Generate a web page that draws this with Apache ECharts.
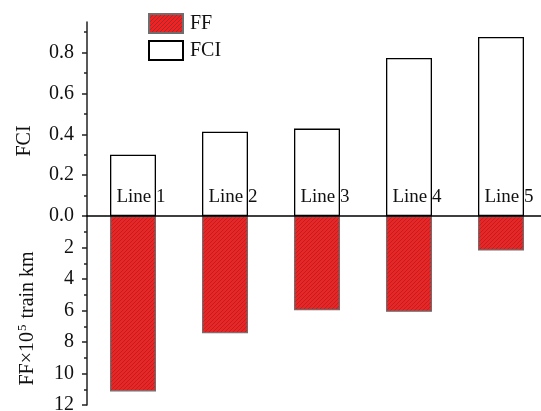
<!DOCTYPE html>
<html>
<head>
<meta charset="utf-8">
<script src="https://cdn.jsdelivr.net/npm/echarts@6/dist/echarts.min.js"></script>
<style>
html,body{margin:0;padding:0;background:#fff;}
#chart{width:541px;height:411px;}
</style>
</head>
<body>
<div id="chart"></div>
<script>
// ---- data ----
const categories = ['Line 1', 'Line 2', 'Line 3', 'Line 4', 'Line 5'];
const fciValues = [0.30, 0.413, 0.428, 0.774, 0.877];
const ffValues = [11.14, 7.45, 5.98, 6.08, 2.19];
const fciTicks = [0.0, 0.2, 0.4, 0.6, 0.8];
const fciMinorTicks = [0.1, 0.3, 0.5, 0.7, 0.9];
const ffTicks = [2, 4, 6, 8, 10, 12];
const ffMinorTicks = [1, 3, 5, 7, 9, 11];

// hatch pattern for FF bars
const pat = document.createElement('canvas');
pat.width = 4; pat.height = 4;
const pctx = pat.getContext('2d');
pctx.fillStyle = '#ff1c1c';
pctx.fillRect(0, 0, 4, 4);
pctx.fillStyle = '#7a3c3c';
for (let x = 0; x < 4; x++) {
  for (let y = 0; y < 4; y++) {
    if ((x + y) % 4 === 0) pctx.fillRect(x, y, 1, 1);
  }
}

const FONT = 'Liberation Serif';
const chart = echarts.init(document.getElementById('chart'), null, {renderer: 'canvas'});

const tickLabelStyle = {fontFamily: FONT, fontSize: 20, color: '#111'};

chart.setOption({
  animation: false,
  backgroundColor: '#fff',
  legend: {
    data: ['FF', 'FCI'],
    orient: 'vertical',
    left: 148, top: 13,
    padding: 0,
    icon: 'rect',
    itemWidth: 34, itemHeight: 19,
    itemGap: 6,
    textStyle: {fontFamily: FONT, fontSize: 20, color: '#111', padding: [0, 0, 0, 2]},
    selectedMode: false
  },
  grid: [
    {left: 87, top: 22, width: 460, height: 194, containLabel: false, outerBoundsMode: 'none'},
    {left: 87, top: 216, width: 460, height: 189, containLabel: false, outerBoundsMode: 'none'}
  ],
  xAxis: [
    {
      type: 'category', gridIndex: 0, data: categories, position: 'bottom', z: 10,
      axisLine: {show: true, lineStyle: {color: '#000', width: 1.5}},
      axisTick: {show: false},
      axisLabel: {inside: true, margin: 9, fontFamily: FONT, fontSize: 19, color: '#111', padding: [0, 0, 0, 16]},
      splitLine: {show: false}
    },
    {
      type: 'category', gridIndex: 1, data: categories, show: false
    }
  ],
  yAxis: [
    {
      type: 'value', gridIndex: 0, min: 0, max: 0.95,
      name: 'FCI', nameLocation: 'middle', nameGap: 52, nameRotate: 90,
      nameTextStyle: {fontFamily: FONT, fontSize: 20, color: '#111', padding: [0, 44, 0, 0]},
      axisLine: {show: true, lineStyle: {color: '#222', width: 1.5}},
      axisTick: {show: true, inside: false, length: 5, customValues: fciTicks, lineStyle: {color: '#222', width: 1.5}},
      axisLabel: {customValues: fciTicks, margin: 13, formatter: v => v.toFixed(1), ...tickLabelStyle},
      splitLine: {show: false}
    },
    {
      type: 'value', gridIndex: 0, min: 0, max: 0.95, position: 'left',
      axisLine: {show: false},
      axisTick: {show: true, inside: false, length: 3, customValues: fciMinorTicks, lineStyle: {color: '#222', width: 1.5}},
      axisLabel: {show: false},
      splitLine: {show: false}
    },
    {
      type: 'value', gridIndex: 1, min: 0, max: 12, inverse: true,
      name: '{a|FF×10}{s|5}{a| train km}', nameLocation: 'middle', nameGap: 48, nameRotate: 90,
      nameTextStyle: {
        fontFamily: FONT, fontSize: 20, color: '#111', padding: [0, 16, 0, 0],
        rich: {
          a: {fontFamily: FONT, fontSize: 20, color: '#111'},
          s: {fontFamily: FONT, fontSize: 13, color: '#111', padding: [0, 1, 10, 1]}
        }
      },
      axisLine: {show: true, lineStyle: {color: '#222', width: 1.5}},
      axisTick: {show: true, inside: false, length: 5, customValues: ffTicks, lineStyle: {color: '#222', width: 1.5}},
      axisLabel: {customValues: ffTicks, margin: 13, ...tickLabelStyle},
      splitLine: {show: false}
    },
    {
      type: 'value', gridIndex: 1, min: 0, max: 12, inverse: true, position: 'left',
      axisLine: {show: false},
      axisTick: {show: true, inside: false, length: 3, customValues: ffMinorTicks, lineStyle: {color: '#222', width: 1.5}},
      axisLabel: {show: false},
      splitLine: {show: false}
    }
  ],
  series: [
    {
      name: 'FCI', type: 'bar', xAxisIndex: 0, yAxisIndex: 0,
      data: fciValues, barWidth: 46,
      itemStyle: {color: '#ffffff', borderColor: '#000', borderWidth: 1.3}
    },
    {
      name: 'FF', type: 'bar', xAxisIndex: 1, yAxisIndex: 2,
      data: ffValues, barWidth: 46,
      itemStyle: {color: {image: pat, repeat: 'repeat'}, borderColor: '#6e6e6e', borderWidth: 1.2}
    }
  ]
});
</script>
</body>
</html>
